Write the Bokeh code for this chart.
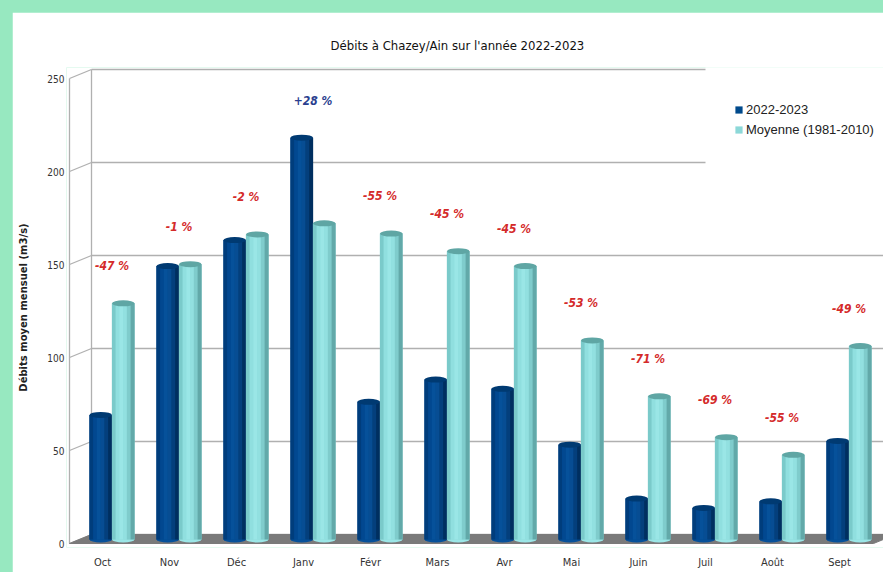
from bokeh.plotting import figure
from bokeh.models import FixedTicker, Legend, LegendItem, BoxAnnotation
from bokeh.core.properties import value
from bokeh.embed import file_html
from bokeh.resources import INLINE

# ---------------- data ----------------
months = ["Oct", "Nov", "Déc", "Janv", "Févr", "Mars", "Avr", "Mai", "Juin", "Juil", "Août", "Sept"]
flow_2022_2023 = [67, 147, 161, 216, 74, 86, 81, 51, 22, 17, 20.5, 53]
flow_mean_1981_2010 = [127, 148, 164, 170, 164.5, 155, 147, 107, 77, 55, 45.5, 104]
pct_labels = ["-47 %", "-1 %", "-2 %", "+28 %", "-55 %", "-45 %", "-45 %", "-53 %", "-71 %", "-69 %", "-55 %", "-49 %"]
y_ticks = [0, 50, 100, 150, 200, 250]

# ---------------- pseudo-3D geometry (styles) ----------------
PX_CAT = 67.0          # pixels per category
PX_UNIT = 1.86         # pixels per m3/s
WALL_DX = 22 / PX_CAT  # back wall shift
WALL_DY = 9 / PX_UNIT
BAR_DX = 9.5 / PX_CAT  # bars stand mid-depth
BAR_DY = 4 / PX_UNIT
BAR_W = 22.5 / PX_CAT
X0 = -33 / PX_CAT      # front-left corner of the box
XF = 771 / PX_CAT      # front-right corner of the floor
X_START, X_END = -36 / PX_CAT, 781 / PX_CAT
Y_START, Y_END = -4 / PX_UNIT, 476 / PX_UNIT
LABEL_GAP = 20

NARROW = "DejaVu Sans Condensed"
GRID = "#b0b0b0"
DARK_BASE, LIGHT_BASE = "#004a8c", "#8cd8d8"
dark_strips = ["#003d7c", "#024890", "#06519a", "#074d93", "#043f7c", "#002f60"]
light_strips = ["#7acaca", "#90dfdf", "#9ae6e6", "#92e0e0", "#7fcccc", "#62a9a9"]
DARK_CAP, LIGHT_CAP = "#003a72", "#5fa6a4"

p = figure(width=871, height=560, output_backend="svg", toolbar_location=None,
           x_range=(X_START, X_END), y_range=(Y_START, Y_END),
           min_border_left=54, min_border_right=0, min_border_top=55, min_border_bottom=25,
           background_fill_color="white", border_fill_color="white", outline_line_color=None)
p.margin = (12, 0, 0, 12)

# title
p.title.text = "Débits à Chazey/Ain sur l'année 2022-2023"
p.title.text_font = NARROW
p.title.text_font_size = "13px"
p.title.text_font_style = "normal"
p.title.text_color = "#111111"
p.title.align = "left"
p.title.offset = 264
p.title.standoff = 29

# axes
p.xgrid.visible = False
p.ygrid.visible = False
for ax in (p.xaxis[0], p.yaxis[0]):
    ax.axis_line_color = None
    ax.major_tick_line_color = None
    ax.minor_tick_line_color = None
    ax.major_tick_out = 0
    ax.major_tick_in = 0
    ax.minor_tick_out = 0
    ax.minor_tick_in = 0
    ax.major_label_text_font = NARROW
    ax.major_label_text_color = "#333333"
p.xaxis.ticker = FixedTicker(ticks=list(range(len(months))))
p.xaxis.major_label_overrides = {i: m for i, m in enumerate(months)}
p.xaxis.major_label_text_font_size = "11px"
p.xaxis.major_label_standoff = 8
p.yaxis.ticker = FixedTicker(ticks=y_ticks)
p.yaxis.major_label_text_font_size = "10px"
p.yaxis.major_label_standoff = 2
p.yaxis.axis_label = "Débits moyen mensuel (m3/s)"
p.yaxis.axis_label_text_font = "DejaVu Sans"
p.yaxis.axis_label_text_font_style = "bold"
p.yaxis.axis_label_text_font_size = "10px"
p.yaxis.axis_label_text_color = "#222222"
p.yaxis.axis_label_standoff = 15

# walls: back gridlines, left wall diagonals and edges
n_t = len(y_ticks)
p.segment(x0=[X0 + WALL_DX] * n_t, y0=[t + WALL_DY for t in y_ticks],
          x1=[X_END + 1] * n_t, y1=[t + WALL_DY for t in y_ticks],
          line_color=GRID, line_width=1.3)
p.segment(x0=[X0] * n_t, y0=y_ticks, x1=[X0 + WALL_DX] * n_t, y1=[t + WALL_DY for t in y_ticks],
          line_color=GRID, line_width=1.3)
p.segment(x0=[X0, X0 + WALL_DX], y0=[0, WALL_DY], x1=[X0, X0 + WALL_DX],
          y1=[max(y_ticks), max(y_ticks) + WALL_DY], line_color=GRID, line_width=1.3)

# floor
p.patch(x=[X0, XF, XF + WALL_DX, X0 + WALL_DX], y=[0, 0, WALL_DY, WALL_DY],
        fill_color="#7a7a7a", line_color="#7a7a7a")

# cylinders
def cylinders(values, shift, base, strips, cap):
    xs = [i + BAR_DX + shift for i in range(len(values))]
    tops = [v + BAR_DY for v in values]
    bots = [BAR_DY] * len(values)
    p.ellipse(x=xs, y=bots, width=BAR_W, height=6, height_units="screen",
              fill_color=strips[2], line_color=None)
    body = p.vbar(x=xs, width=BAR_W, bottom=bots, top=tops, fill_color=base, line_color=None)
    n = len(strips)
    for k, c in enumerate(strips):
        sx = [x - BAR_W / 2 + (k + 0.5) * BAR_W / n for x in xs]
        p.vbar(x=sx, width=BAR_W / n * 1.08, bottom=bots, top=tops, fill_color=c, line_color=None)
    p.ellipse(x=xs, y=tops, width=BAR_W, height=6, height_units="screen",
              fill_color=cap, line_color=None)
    return body

dark_body = cylinders(flow_2022_2023, -BAR_W / 2, DARK_BASE, dark_strips, DARK_CAP)
light_body = cylinders(flow_mean_1981_2010, BAR_W / 2, LIGHT_BASE, light_strips, LIGHT_CAP)

# percentage labels
lab_x = [i + BAR_DX for i in range(len(months))]
lab_y = [max(a, b) + BAR_DY + LABEL_GAP for a, b in zip(flow_2022_2023, flow_mean_1981_2010)]
lab_c = ["#2b3f8f" if s.startswith("+") else "#d42a2a" for s in pct_labels]
p.text(x=lab_x, y=lab_y, text=pct_labels, text_color=lab_c,
       text_font=value(NARROW), text_font_style="bold italic",
       text_font_size="12px", text_align="center", text_baseline="middle")

# white area behind the legend (hides the back gridlines there)
p.add_layout(BoxAnnotation(left=603 / PX_CAT, right=X_END + 1,
                           bottom=379 / PX_UNIT, top=Y_END + 10,
                           fill_color="white", fill_alpha=1.0, line_color=None))

# legend
PAD = 5
legend = Legend(items=[LegendItem(label="2022-2023", renderers=[dark_body]),
                       LegendItem(label="Moyenne (1981-2010)", renderers=[light_body])],
                location=(673 - PAD, 413 - PAD), padding=PAD, spacing=0, margin=0,
                label_height=20, glyph_height=9, glyph_width=9, label_standoff=3,
                label_text_font="Liberation Sans", label_text_font_size="13px",
                label_text_color="#222222",
                background_fill_color="white", background_fill_alpha=1.0,
                border_line_color=None)
p.add_layout(legend)

html = file_html(p, INLINE)
style = "<style>html, body { background-color: #97e8c0 !important; }</style>"
if "</head>" in html:
    html = html.replace("</head>", style + "</head>", 1)
else:
    html = style + html
open("out.html", "w").write(html)
